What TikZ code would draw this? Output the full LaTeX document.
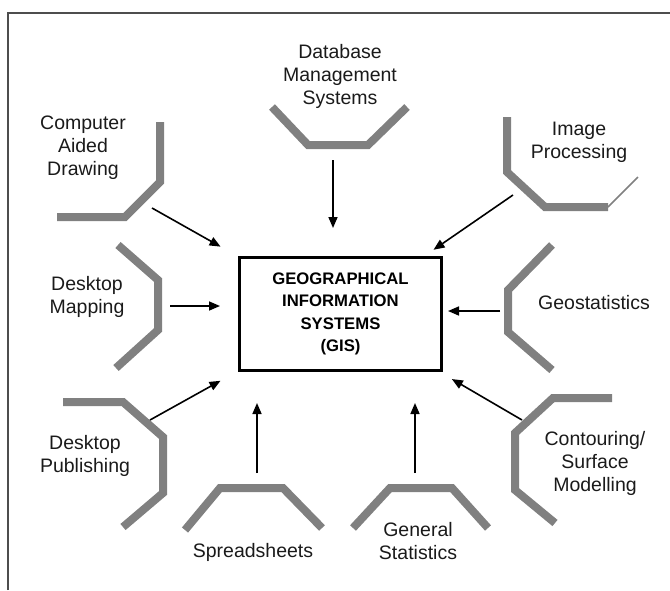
\documentclass[tikz,border=0pt]{standalone}
\usepackage{fontspec}
\setmainfont{Liberation Sans}
\usetikzlibrary{positioning,arrows.meta,calc}
\definecolor{GisRim}{HTML}{808080}
\definecolor{GisFrame}{HTML}{4D4D4D}
\definecolor{GisText}{HTML}{1A1A1A}

\begin{document}
\begin{tikzpicture}[x=1pt,y=-1pt,
    topic/.style={align=center,font=\fontsize{19.5}{23}\selectfont,text=GisText,inner sep=0pt},
    gisbox/.style={draw,line width=3pt,minimum width=202pt,minimum height=113pt,align=center,font=\fontsize{16.7}{22.5}\selectfont\bfseries},
    rim/.style={draw=GisRim,line width=8pt,line join=miter},
    feed/.style={-{Triangle[length=11pt,width=9pt]},line width=1.6pt}]
  \useasboundingbox (0,0) rectangle (670,590);
  \draw[GisFrame,line width=1.6pt] (8,590) -- (8,13) -- (670,13);

  \node[gisbox] (gis) at (340.5,314) {GEOGRAPHICAL\\INFORMATION\\SYSTEMS\\(GIS)};

  \node[topic] (dbms)  at (340,76)  {Database\\Management\\Systems};
  \node[topic] (cad)   at (83,148)  {Computer\\Aided\\Drawing};
  \node[topic] (imgp)  at (579,142) {Image\\Processing};
  \node[topic] (dmap)  at (87,297)  {Desktop\\Mapping};
  \node[topic] (geos)  at (594,303) {Geostatistics};
  \node[topic] (dpub)  at (85,456)  {Desktop\\Publishing};
  \node[topic] (cont)  at (595,463) {Contouring/\\Surface\\Modelling};
  \node[topic] (sprd)  at (253,552) {Spreadsheets};
  \node[topic] (gstat) at (418,541) {General\\Statistics};

  % half octagons round the topics
  \draw[rim] ($(dbms)+(-68,31)$) -- ++(36,38) -- ++(60,0) -- ++(39,-38);
  \draw[rim] ($(cad)+(77,-26)$) -- ++(0,60) -- ++(-35,35) -- ++(-68,0);
  \draw[rim] ($(imgp)+(-72,-25)$) -- ++(0,55) -- ++(38,35) -- ++(63,0);
  \draw[GisRim,line width=1.5pt] ($(imgp)+(29,65)$) -- ++(30,-30);
  \draw[rim] ($(dmap)+(31,-52)$) -- ++(40,35) -- ++(0,50) -- ++(-42,38);
  \draw[rim] ($(geos)+(-42,-58)$) -- ++(-44,45) -- ++(0,42) -- ++(44,38);
  \draw[rim] ($(dpub)+(-22,-54)$) -- ++(60,0) -- ++(40,35) -- ++(0,56) -- ++(-40,34);
  \draw[rim] ($(cont)+(17,-65)$) -- ++(-59,0) -- ++(-38,35) -- ++(0,57) -- ++(40,33);
  \draw[rim] ($(sprd)+(-68,-22)$) -- ++(35,-42) -- ++(63,0) -- ++(39,40);
  \draw[rim] ($(gstat)+(-65,-13)$) -- ++(37,-40) -- ++(62,0) -- ++(36,40);

  % arrow tails
  \coordinate (dbms-out)  at ($(dbms)+(-7,84)$);
  \coordinate (cad-out)   at ($(cad)+(69,60)$);
  \coordinate (imgp-out)  at ($(imgp)+(-66,53)$);
  \coordinate (dmap-out)  at ($(dmap)+(83,9)$);
  \coordinate (geos-out)  at ($(geos)+(-94,8)$);
  \coordinate (dpub-out)  at ($(dpub)+(65,-36)$);
  \coordinate (cont-out)  at ($(cont)+(-73,-43)$);
  \coordinate (sprd-out)  at ($(sprd)+(4,-79)$);
  \coordinate (gstat-out) at ($(gstat)+(-3,-68)$);

  \draw[feed,shorten >=28pt] (dbms-out) -- (dbms-out |- gis.north);
  \draw[feed,shorten >=20pt] (cad-out) -- (gis);
  \draw[feed,shorten >=11pt] (imgp-out) -- (gis);
  \draw[feed,shorten >=18pt] (dmap-out) -- (dmap-out -| gis.west);
  \draw[feed,shorten >=5pt] (geos-out) -- (geos-out -| gis.east);
  \draw[feed,shorten >=20pt] (dpub-out) -- (gis);
  \draw[feed,shorten >=14pt] (cont-out) -- (gis);
  \draw[feed,shorten >=31pt] (sprd-out) -- (sprd-out |- gis.south);
  \draw[feed,shorten >=31pt] (gstat-out) -- (gstat-out |- gis.south);
\end{tikzpicture}
\end{document}
